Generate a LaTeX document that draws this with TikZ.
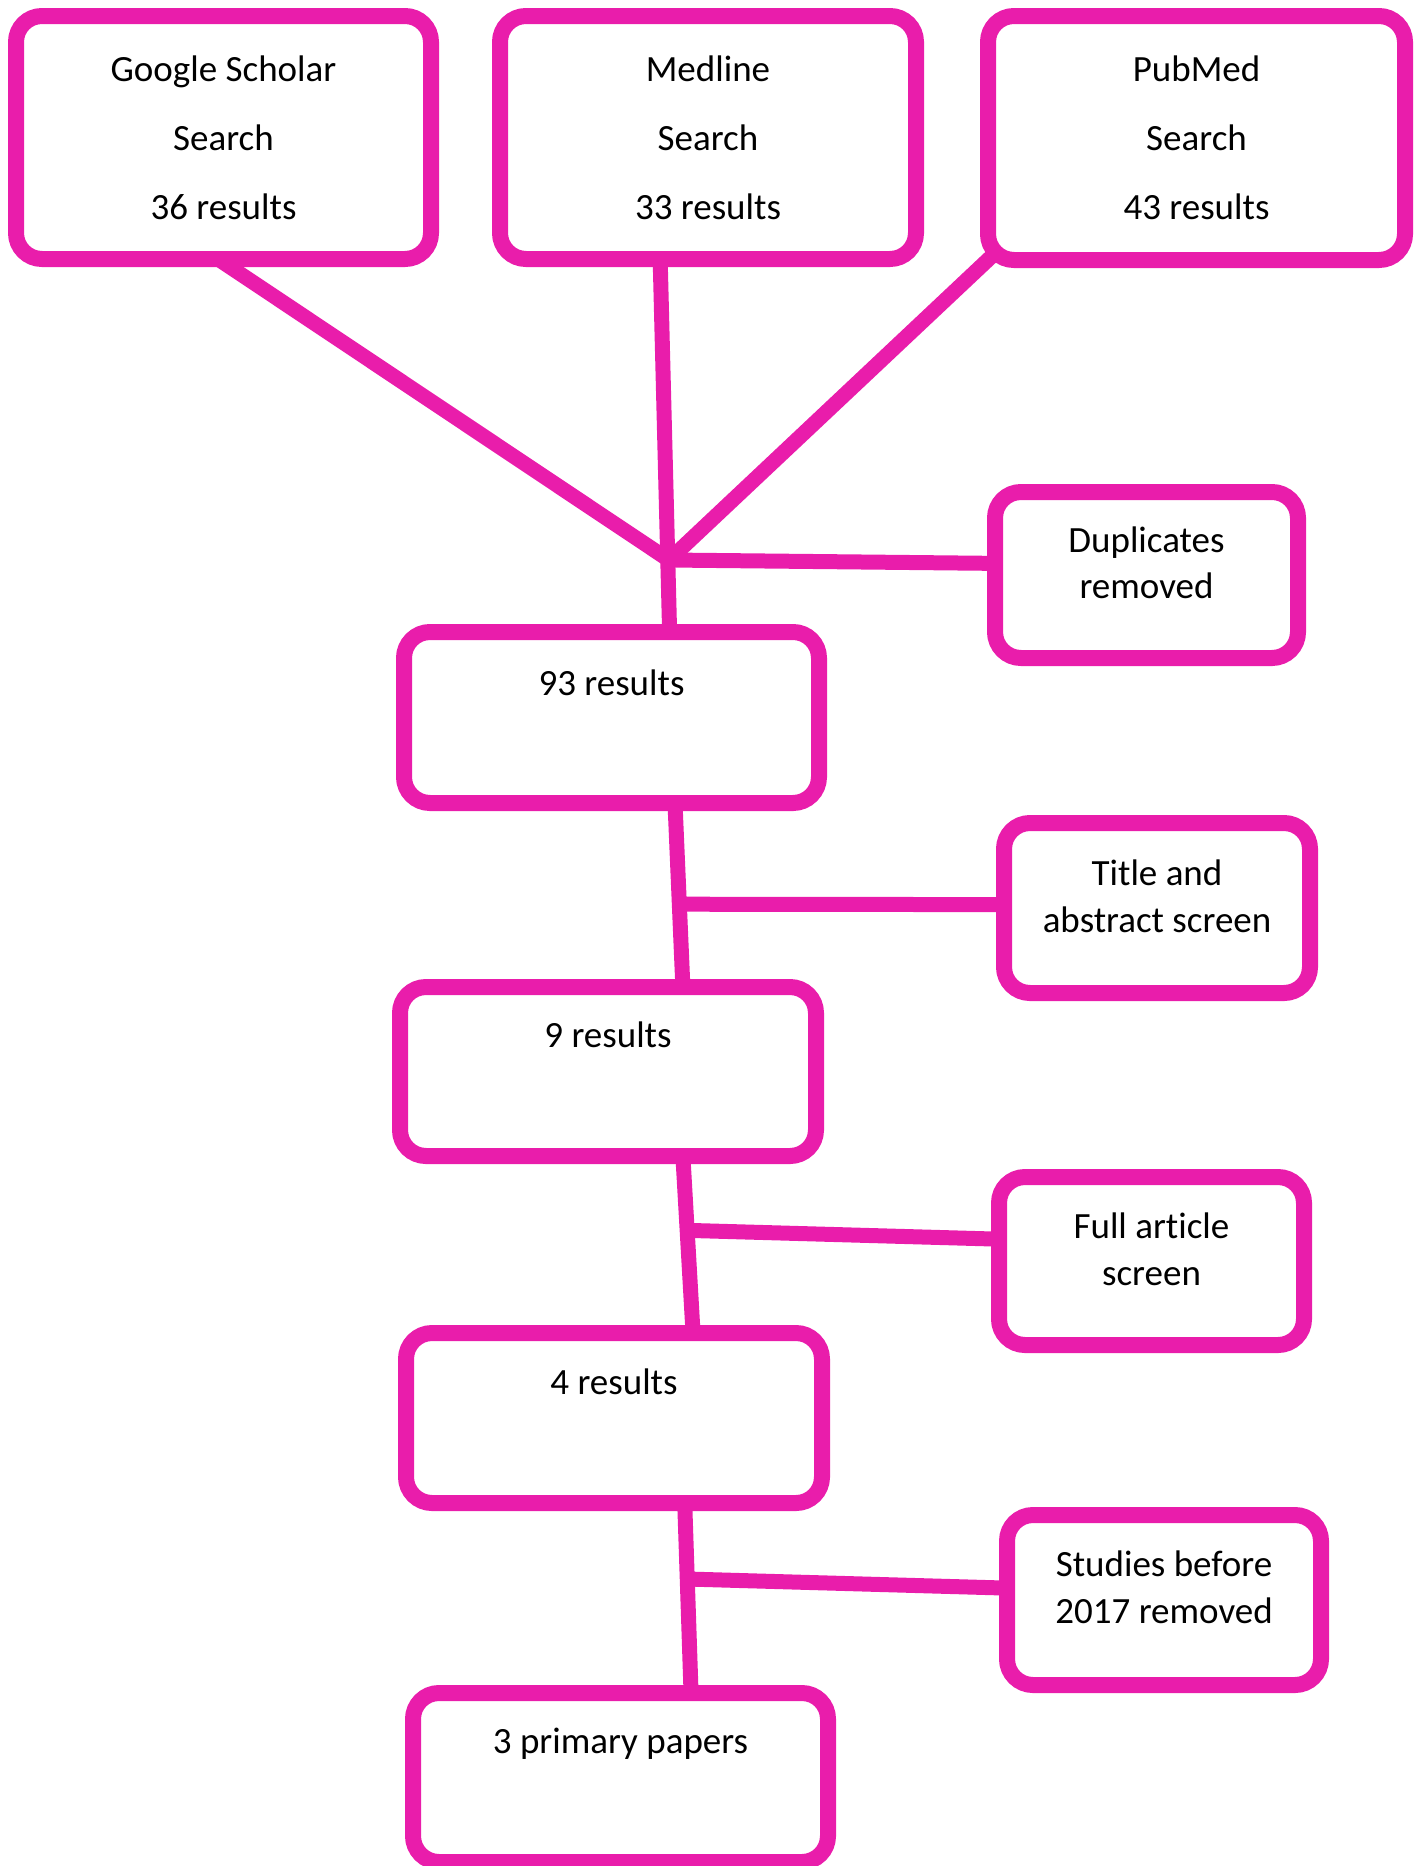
\documentclass[tikz,border=0pt]{standalone}
\usepackage{fontspec}
\setmainfont{Carlito}[Ligatures={NoCommon,NoRare,NoDiscretionary},Contextuals=NoAlternate]
\usetikzlibrary{calc}
\definecolor{pinkline}{RGB}{233,29,171}
\begin{document}
\begin{tikzpicture}[x=1pt,y=-1pt,
  box/.style={draw=pinkline, line width=16pt, rounded corners=26pt, rectangle, outer sep=0pt, inner sep=0pt, anchor=north west},
  lbl/.style={anchor=base, inner sep=0pt, font=\fontsize{37}{44}\selectfont, text=black},
  conn/.style={draw=pinkline, line width=15pt}]
\useasboundingbox (0,0) rectangle (1418,1866);
% boxes
\node[box, minimum width=415pt, minimum height=243pt] (gs) at (16,16) {};
\node[box, minimum width=416pt, minimum height=243pt] (med) at (500,16) {};
\node[box, minimum width=417pt, minimum height=244pt] (pub) at (988,16) {};
\node[box, minimum width=303pt, minimum height=166pt] (dup) at (995,492) {};
\node[box, minimum width=415pt, minimum height=171pt] (r93) at (404,632) {};
\node[box, minimum width=306pt, minimum height=170pt] (tas) at (1004,823) {};
\node[box, minimum width=416pt, minimum height=169pt] (r9) at (400,987) {};
\node[box, minimum width=305pt, minimum height=168pt] (fas) at (999,1177) {};
\node[box, minimum width=416pt, minimum height=170pt] (r4) at (406,1333) {};
\node[box, minimum width=314pt, minimum height=170pt] (sb) at (1007,1515) {};
\node[box, minimum width=415pt, minimum height=169pt] (r3) at (413,1693) {};
% labels
\node[lbl] (gs1) at ($(gs.north)+(0,65)$) {Google Scholar};
\node[lbl] (gs2) at ($(gs.north)+(0,134)$) {Search};
\node[lbl] (gs3) at ($(gs.north)+(0,203)$) {36 results};
\node[lbl] (med1) at ($(med.north)+(0,65)$) {Medline};
\node[lbl] (med2) at ($(med.north)+(0,134)$) {Search};
\node[lbl] (med3) at ($(med.north)+(0,203)$) {33 results};
\node[lbl] (pub1) at ($(pub.north)+(0,65)$) {PubMed};
\node[lbl] (pub2) at ($(pub.north)+(0,134)$) {Search};
\node[lbl] (pub3) at ($(pub.north)+(0,203)$) {43 results};
\node[lbl] (dup1) at ($(dup.north)+(0,60)$) {Duplicates};
\node[lbl] (dup2) at ($(dup.north)+(0,106)$) {removed};
\node[lbl] (r93l) at ($(r93.north)+(0,63)$) {93 results};
\node[lbl] (tas1) at ($(tas.north)+(0,62)$) {Title and};
\node[lbl] (tas2) at ($(tas.north)+(0,109)$) {abstract screen};
\node[lbl] (r9l) at ($(r9.north)+(0,60)$) {9 results};
\node[lbl] (fas1) at ($(fas.north)+(0,61)$) {Full art\kern0pt icle};
\node[lbl] (fas2) at ($(fas.north)+(0,108)$) {screen};
\node[lbl] (r4l) at ($(r4.north)+(0,61)$) {4 results};
\node[lbl] (sb1) at ($(sb.north)+(0,61)$) {Studies before};
\node[lbl] (sb2) at ($(sb.north)+(0,108)$) {2017 removed};
\node[lbl] (r3l) at ($(r3.north)+(0,60)$) {3 primary papers};
% connectors: top
\coordinate (J) at (669,560);
\coordinate (gsS) at ($(gs.south west)!0.487!(gs.south east)$);
\coordinate (medS) at ($(med.south west)!0.385!(med.south east)$);
\coordinate (r93N) at ($(r93.north west)!0.64!(r93.north east)$);
\draw[conn] (gsS) -- (J);
\draw[conn] ($(pub.south west)+(4,-4)$) -- (J);
\draw[conn] (medS) -- (r93N);
\draw[conn] (J) -- ($(dup.north west)!0.43!(dup.south west)$);
% 93 -> 9
\coordinate (a1) at ($(r93.south west)!0.653!(r93.south east)$);
\coordinate (b1) at ($(r9.north west)!0.68!(r9.north east)$);
\draw[conn] (a1) -- (b1);
\draw[conn] ($(a1)!0.55!(b1)$) -- ($(tas.north west)!0.48!(tas.south west)$);
% 9 -> 4
\coordinate (a2) at ($(r9.south west)!0.68!(r9.south east)$);
\coordinate (b2) at ($(r4.north west)!0.69!(r4.north east)$);
\draw[conn] (a2) -- (b2);
\draw[conn] ($(a2)!0.42!(b2)$) -- ($(fas.north west)!0.37!(fas.south west)$);
% 4 -> 3
\coordinate (a3) at ($(r4.south west)!0.67!(r4.south east)$);
\coordinate (b3) at ($(r3.north west)!0.67!(r3.north east)$);
\draw[conn] (a3) -- (b3);
\draw[conn] ($(a3)!0.4!(b3)$) -- ($(sb.north west)!0.43!(sb.south west)$);
\end{tikzpicture}
\end{document}
